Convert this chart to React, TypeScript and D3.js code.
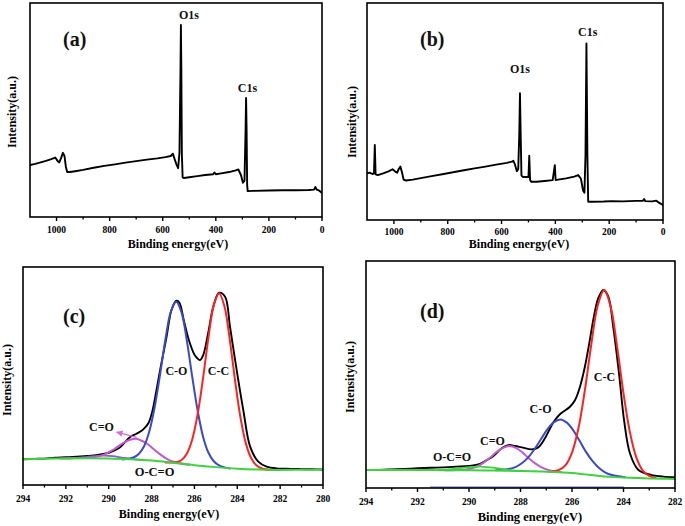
import React from 'react';
import * as d3 from 'd3';

type Pt = [number, number];

// ---------- Survey spectra (binding energy eV, intensity a.u.) ----------
const SURVEY_A: Pt[] = [
  [1100, 24.3], [1080, 24.8], [1060, 25.5], [1040, 26.2], [1020, 27.0], [1005, 27.8], [995, 26.0],
  [990, 25.5], [983, 27.5], [976, 30.0], [970, 28.5], [965, 23.5], [960, 21.0], [950, 21.0],
  [930, 21.4], [900, 22.0], [860, 23.0], [820, 23.9], [780, 24.6], [740, 25.4], [700, 26.1],
  [660, 26.8], [620, 27.4], [590, 28.0], [570, 28.5], [562, 29.6], [555, 27.0], [548, 24.5],
  [542, 22.8], [537, 30], [533, 70], [531.5, 89.7], [530, 70], [528, 30], [525, 18.5], [520, 18.2],
  [500, 18.6], [470, 19.1], [440, 19.6], [410, 20.0], [405, 20.8], [400, 20.0], [380, 20.4],
  [350, 21.0], [325, 21.8], [315, 22.2], [305, 19.5], [298, 16.0], [292, 17], [288, 40],
  [286, 55.6], [284, 40], [282, 15], [280, 12.1], [260, 12.2], [200, 12.4], [150, 12.5],
  [100, 12.5], [50, 12.6], [30, 12.8], [25, 14.0], [20, 12.8], [10, 12.3], [0, 11.2],
];

const SURVEY_B: Pt[] = [
  [1100, 21.5], [1090, 21.8], [1080, 21.2], [1074, 21.5], [1071, 34.6], [1068, 21.0], [1060, 20.7],
  [1040, 21.5], [1020, 22.4], [1005, 23.4], [995, 22.3], [988, 21.8], [982, 23.5], [976, 24.6],
  [970, 22.0], [964, 18.6], [955, 18.2], [930, 18.6], [900, 19.3], [860, 20.2], [820, 21.1],
  [780, 22.0], [740, 22.9], [700, 23.8], [660, 24.6], [620, 25.5], [580, 26.3], [562, 26.9],
  [556, 27.3], [550, 25.5], [543, 22.5], [538, 23.5], [534, 40], [531.5, 58.4], [529, 40],
  [526, 20.5], [520, 19.8], [510, 19.8], [500, 19.8], [497, 29.6], [494, 18.5], [490, 17.6],
  [470, 17.6], [440, 18.0], [410, 18.4], [402, 25.3], [399, 18.4], [390, 18.6], [360, 19.2],
  [330, 20.0], [315, 20.7], [305, 19], [297, 13.5], [292, 12.6], [288, 30], [284.5, 81.4],
  [281, 30], [278, 8.4], [260, 8.4], [220, 8.5], [190, 8.7], [150, 8.6], [100, 8.8], [75, 8.8],
  [70, 9.7], [66, 8.7], [40, 8.6], [25, 8.9], [15, 8.0], [0, 6.9],
];

// ---------- C1s high-resolution, panel (c) ----------
const TOTAL_C: Pt[] = [
  [294, 11.8], [293.5, 12.0], [293, 12.1], [292.5, 12.5], [292, 12.7], [291.5, 13.0], [291, 13.3],
  [290.5, 13.8], [290, 14.8], [289.5, 17.1], [289, 22.0], [288.7, 23.5], [288.4, 25.4],
  [288.15, 28.3], [287.95, 34.4], [287.84, 39.8], [287.6, 52.8], [287.3, 68], [287.07, 80.3],
  [286.84, 84.5], [286.7, 83.6], [286.5, 75.7], [286.26, 66.5], [286.0, 59.8], [285.9, 58.5],
  [285.74, 57.3], [285.59, 59.6], [285.36, 69.6], [285.12, 81.8], [284.85, 88.2], [284.57, 86.4],
  [284.34, 72.6], [284.03, 52.8], [283.72, 34.4], [283.4, 17.6], [283.02, 10.7], [282.63, 8.4],
  [282.16, 7.6], [281.5, 7.4], [281, 7.3], [280.5, 7.2], [280, 7.1],
];
const CC_C: Pt[] = [
  [287.35, 10.3], [287.1, 10.3], [286.85, 10.4], [286.6, 11.5], [286.35, 14.5], [286.1, 21.0],
  [285.85, 32.5], [285.6, 48.9], [285.35, 67.4], [285.1, 82.4], [284.85, 88.0], [284.6, 82.0],
  [284.35, 66.6], [284.1, 47.7], [283.85, 30.9], [283.6, 19.1], [283.35, 12.3], [283.1, 8.9],
  [282.85, 7.6], [282.35, 6.9],
];
const CO_C: Pt[] = [
  [289.35, 11.7], [289.1, 12.0], [288.85, 12.6], [288.6, 14.2], [288.35, 17.8], [288.1, 24.8],
  [287.85, 36.0], [287.6, 50.9], [287.35, 67.0], [287.1, 79.6], [286.85, 84.1], [286.6, 79.1],
  [286.35, 66.0], [286.1, 49.5], [285.85, 34.1], [285.6, 22.3], [285.35, 14.9], [285.1, 10.9],
  [284.85, 9.0], [284.6, 8.1], [284.35, 7.6],
];
const CEO_C: Pt[] = [
  [292.25, 12.2], [291.75, 12.3], [291.25, 12.4], [290.75, 12.6], [290.25, 13.8], [289.75, 16.4],
  [289.25, 19.7], [288.75, 21.2], [288.25, 19.2], [287.75, 15.2], [287.25, 11.8], [286.75, 10.1],
  [286.25, 9.3],
];
const OCO_C: Pt[] = [
  [292, 12.2], [291.5, 12.4], [291, 12.9], [290.5, 13.4], [290.2, 13.5], [289.8, 13.2],
  [289.4, 12.6], [289, 12.0], [288.5, 11.5],
];
const BASE_C: Pt[] = [
  [294, 11.8], [293, 12.0], [292, 12.2], [291, 12.3], [290, 12.2], [289, 11.8], [288, 11.2],
  [287, 10.2], [286, 9.1], [285, 8.2], [284, 7.5], [283, 7.1], [282, 6.9], [281, 7.0], [280, 7.1],
];
const ARROW_C: Pt[] = [[288.7, 21.9], [289.63, 24.2]];

// ---------- C1s high-resolution, panel (d) ----------
const TOTAL_D: Pt[] = [
  [294, 7.9], [293.5, 8.0], [293, 8.2], [292.5, 8.4], [292, 8.7], [291.5, 8.9], [291, 9.1],
  [290.5, 9.4], [290, 9.7], [289.57, 10.6], [289.31, 12.3], [289.05, 14.1], [288.73, 17.5],
  [288.47, 18.9], [288.21, 18.5], [287.95, 17.9], [287.56, 17.0], [287.31, 17.9], [287.05, 21.9],
  [286.73, 28.8], [286.47, 32.5], [286.08, 35.8], [285.88, 38.8], [285.69, 44.6], [285.5, 53.4],
  [285.33, 63.7], [285.15, 75.5], [284.98, 83.6], [284.78, 87.2], [284.59, 84.3], [284.4, 71.1],
  [284.16, 49.0], [283.98, 30.0], [283.75, 15.3], [283.42, 7.9], [282.9, 5.7], [282.45, 5.0],
  [282, 4.8],
];
const CC_D: Pt[] = [
  [286.75, 7.4], [286.5, 8.0], [286.25, 10.1], [286.0, 15.6], [285.75, 26.3], [285.5, 43.1],
  [285.25, 63.3], [285.0, 80.4], [284.75, 87.2], [284.5, 79.9], [284.25, 62.4], [284.0, 41.7],
  [283.75, 24.5], [283.5, 13.4], [283.25, 7.7], [283.0, 5.3], [282.75, 4.45],
];
const CO_D: Pt[] = [
  [288.95, 7.8], [288.45, 8.4], [288.2, 9.2], [287.95, 10.9], [287.7, 13.5], [287.45, 17.2],
  [287.2, 21.6], [286.95, 25.9], [286.7, 29.0], [286.45, 30.2], [286.2, 28.8], [285.95, 25.4],
  [285.7, 20.7], [285.45, 15.8], [285.2, 11.8], [284.95, 8.8], [284.7, 6.8], [284.45, 5.7],
  [283.95, 4.7],
];
const CEO_D: Pt[] = [
  [290.93, 7.8], [290.43, 7.9], [290.18, 8.05], [289.93, 8.55], [289.68, 9.5], [289.43, 11.2],
  [289.18, 13.4], [288.93, 15.85], [288.68, 17.7], [288.43, 18.5], [288.18, 17.65], [287.93, 15.7],
  [287.68, 13.1], [287.43, 10.85], [287.18, 9.1], [286.93, 8.0], [286.68, 7.4], [286.43, 7.1],
];
const OCO_D: Pt[] = [
  [291.2, 7.85], [290.8, 8.2], [290.4, 8.7], [290.0, 9.2], [289.6, 9.4], [289.2, 9.1],
  [288.8, 8.5], [288.4, 7.9], [288.0, 7.5],
];
const BASE_D: Pt[] = [
  [294, 7.9], [293, 7.9], [292, 7.9], [291, 7.85], [290, 7.8], [289, 7.7], [288, 7.5], [287, 7.2],
  [286.5, 6.9], [286, 6.6], [285.5, 6.0], [285, 5.4], [284.5, 4.9], [284, 4.6], [283.5, 4.4],
  [283, 4.2], [282.5, 4.1], [282, 4.0],
];
const RESID_D: Pt[] = [[291.5, 0.4], [284, 0.4]];

// ---------- Ticks & labels ----------
const SURVEY_MAJOR = [1000, 800, 600, 400, 200, 0];
const SURVEY_MINOR = [900, 700, 500, 300, 100];
const C_MAJOR = [294, 292, 290, 288, 286, 284, 282, 280];
const C_MINOR = [293, 291, 289, 287, 285, 283, 281];
const D_MAJOR = [294, 292, 290, 288, 286, 284, 282];
const D_MINOR = [293, 291, 289, 287, 285, 283];

const X_TITLE = 'Binding energy(eV)';
const Y_TITLE = 'Intensity(a.u.)';

const COLORS = {
  total: '#000000',
  cc: '#ff2020',
  co: '#3a48cc',
  ceo: '#c45ad0',
  oco: '#8a5ad8',
  base: '#3ed23e',
};

const FONT = '"Liberation Serif", "Times New Roman", serif';

interface SeriesDef { data: Pt[]; color: string; width: number; smooth?: boolean }
interface LabelDef { text: string; at: Pt; size: number; anchor: 'start' | 'middle' | 'end' }
interface PanelDef {
  id: string;
  box: { l: number; t: number; r: number; b: number };
  domain: [number, number];
  major: number[];
  minor: number[];
  series: SeriesDef[];
  labels: LabelDef[];
  tickY: number;
  xTitle: { cx: number; y: number; size: number };
  yTitle: { x: number; cy: number };
  arrow?: Pt[];
}

const PANELS: PanelDef[] = [
  {
    id: 'a', box: { l: 30, t: 3, r: 322, b: 217 }, domain: [1100, 0],
    major: SURVEY_MAJOR, minor: SURVEY_MINOR,
    series: [{ data: SURVEY_A, color: COLORS.total, width: 1.9 }],
    labels: [
      { text: '(a)', at: [975.7, 79.9], size: 20, anchor: 'start' },
      { text: 'O1s', at: [501, 92.5], size: 12, anchor: 'middle' },
      { text: 'C1s', at: [280.7, 58.2], size: 12, anchor: 'middle' },
    ],
    tickY: 233, xTitle: { cx: 178, y: 248, size: 12 }, yTitle: { x: 16, cy: 112 },
  },
  {
    id: 'b', box: { l: 367, t: 3, r: 663, b: 220 }, domain: [1100, 0],
    major: SURVEY_MAJOR, minor: SURVEY_MINOR,
    series: [{ data: SURVEY_B, color: COLORS.total, width: 1.9 }],
    labels: [
      { text: '(b)', at: [903, 80.2], size: 20, anchor: 'start' },
      { text: 'O1s', at: [531.4, 67.7], size: 12, anchor: 'middle' },
      { text: 'C1s', at: [279.8, 84.8], size: 12, anchor: 'middle' },
    ],
    tickY: 235, xTitle: { cx: 519, y: 248, size: 12 }, yTitle: { x: 355.5, cy: 122 },
  },
  {
    id: 'c', box: { l: 23, t: 267, r: 323, b: 485 }, domain: [294, 280],
    major: C_MAJOR, minor: C_MINOR,
    series: [
      { data: TOTAL_C, color: COLORS.total, width: 1.9, smooth: true },
      { data: OCO_C, color: COLORS.oco, width: 1.8, smooth: true },
      { data: CEO_C, color: COLORS.ceo, width: 2, smooth: true },
      { data: CO_C, color: COLORS.co, width: 2, smooth: true },
      { data: CC_C, color: COLORS.cc, width: 2, smooth: true },
      { data: BASE_C, color: COLORS.base, width: 2, smooth: true },
    ],
    labels: [
      { text: '(c)', at: [292.13, 74.3], size: 20, anchor: 'start' },
      { text: 'C-O', at: [286.84, 50.5], size: 12, anchor: 'middle' },
      { text: 'C-C', at: [284.88, 50.5], size: 12, anchor: 'middle' },
      { text: 'C=O', at: [290.34, 24.8], size: 12, anchor: 'middle' },
      { text: 'O-C=O', at: [287.86, 4.1], size: 12.5, anchor: 'middle' },
    ],
    arrow: ARROW_C,
    tickY: 502, xTitle: { cx: 169, y: 518, size: 12 }, yTitle: { x: 11, cy: 380 },
  },
  {
    id: 'd', box: { l: 366, t: 261, r: 675, b: 488 }, domain: [294, 282],
    major: D_MAJOR, minor: D_MINOR,
    series: [
      { data: TOTAL_D, color: COLORS.total, width: 1.9, smooth: true },
      { data: CEO_D, color: COLORS.ceo, width: 2, smooth: true },
      { data: CO_D, color: COLORS.co, width: 2, smooth: true },
      { data: CC_D, color: COLORS.cc, width: 2, smooth: true },
      { data: RESID_D, color: COLORS.co, width: 1 },
      { data: BASE_D, color: COLORS.base, width: 2, smooth: true },
      { data: OCO_D, color: COLORS.base, width: 1.8, smooth: true },
    ],
    labels: [
      { text: '(d)', at: [291.9, 74.9], size: 20, anchor: 'start' },
      { text: 'C-C', at: [284.74, 47.1], size: 12, anchor: 'middle' },
      { text: 'C-O', at: [287.22, 33.0], size: 12, anchor: 'middle' },
      { text: 'C=O', at: [289.09, 18.9], size: 12, anchor: 'middle' },
      { text: 'O-C=O', at: [290.66, 11.9], size: 12, anchor: 'middle' },
    ],
    tickY: 505, xTitle: { cx: 530, y: 521, size: 12.5 }, yTitle: { x: 354, cy: 377 },
  },
];

function Panel({ p }: { p: PanelDef }) {
  const { box } = p;
  const x = d3.scaleLinear().domain(p.domain).range([box.l, box.r]);
  const y = d3.scaleLinear().domain([0, 100]).range([box.b, box.t]);
  const mkLine = (smooth?: boolean) =>
    d3.line<Pt>()
      .x((d) => x(d[0]))
      .y((d) => y(d[1]))
      .curve(smooth ? d3.curveCatmullRom.alpha(0.5) : d3.curveLinear);
  const clipId = `clip-${p.id}`;
  const markerId = `arrow-${p.id}`;
  return (
    <g>
      <defs>
        <clipPath id={clipId}>
          <rect x={box.l} y={box.t} width={box.r - box.l} height={box.b - box.t} />
        </clipPath>
        <marker id={markerId} viewBox="0 0 10 10" refX="9" refY="5" markerWidth="5" markerHeight="5" orient="auto">
          <path d="M0,0 L10,5 L0,10 z" fill="#e06ad8" />
        </marker>
      </defs>
      <g clipPath={`url(#${clipId})`}>
        {p.series.map((s, i) => (
          <path key={i} d={mkLine(s.smooth)(s.data) || ''} fill="none" stroke={s.color}
            strokeWidth={s.width} strokeLinejoin="round" strokeLinecap="round" />
        ))}
      </g>
      {p.arrow && (
        <line x1={x(p.arrow[0][0])} y1={y(p.arrow[0][1])} x2={x(p.arrow[1][0])} y2={y(p.arrow[1][1])}
          stroke="#e06ad8" strokeWidth={1.3} markerEnd={`url(#${markerId})`} />
      )}
      <rect x={box.l} y={box.t} width={box.r - box.l} height={box.b - box.t}
        fill="none" stroke="#000" strokeWidth={1.6} />
      {p.major.map((v) => (
        <g key={`M${v}`}>
          <line x1={x(v)} x2={x(v)} y1={box.b} y2={box.b + 4} stroke="#000" strokeWidth={1.4} />
          <text x={x(v)} y={p.tickY} textAnchor="middle" fontSize={9.5} fontWeight="bold"
            fontFamily={FONT}>{v}</text>
        </g>
      ))}
      {p.minor.map((v) => (
        <line key={`m${v}`} x1={x(v)} x2={x(v)} y1={box.b} y2={box.b + 2.5} stroke="#000" strokeWidth={1.3} />
      ))}
      {p.labels.map((l, i) => (
        <text key={i} x={x(l.at[0])} y={y(l.at[1])} textAnchor={l.anchor} fontSize={l.size}
          fontWeight="bold" fontFamily={FONT} fill="#111">{l.text}</text>
      ))}
      <text x={p.xTitle.cx} y={p.xTitle.y} textAnchor="middle" fontSize={p.xTitle.size}
        fontWeight="bold" fontFamily={FONT}>{X_TITLE}</text>
      <text transform={`translate(${p.yTitle.x},${p.yTitle.cy}) rotate(-90)`} textAnchor="middle"
        fontSize={12} fontWeight="bold" fontFamily={FONT}>{Y_TITLE}</text>
    </g>
  );
}

export default function App() {
  return (
    <svg width={685} height={526} viewBox="0 0 685 526"
      style={{ position: 'absolute', left: 0, top: 0, background: '#fff' }}>
      <rect x={0} y={0} width={685} height={526} fill="#fff" />
      {PANELS.map((p) => <Panel key={p.id} p={p} />)}
    </svg>
  );
}
